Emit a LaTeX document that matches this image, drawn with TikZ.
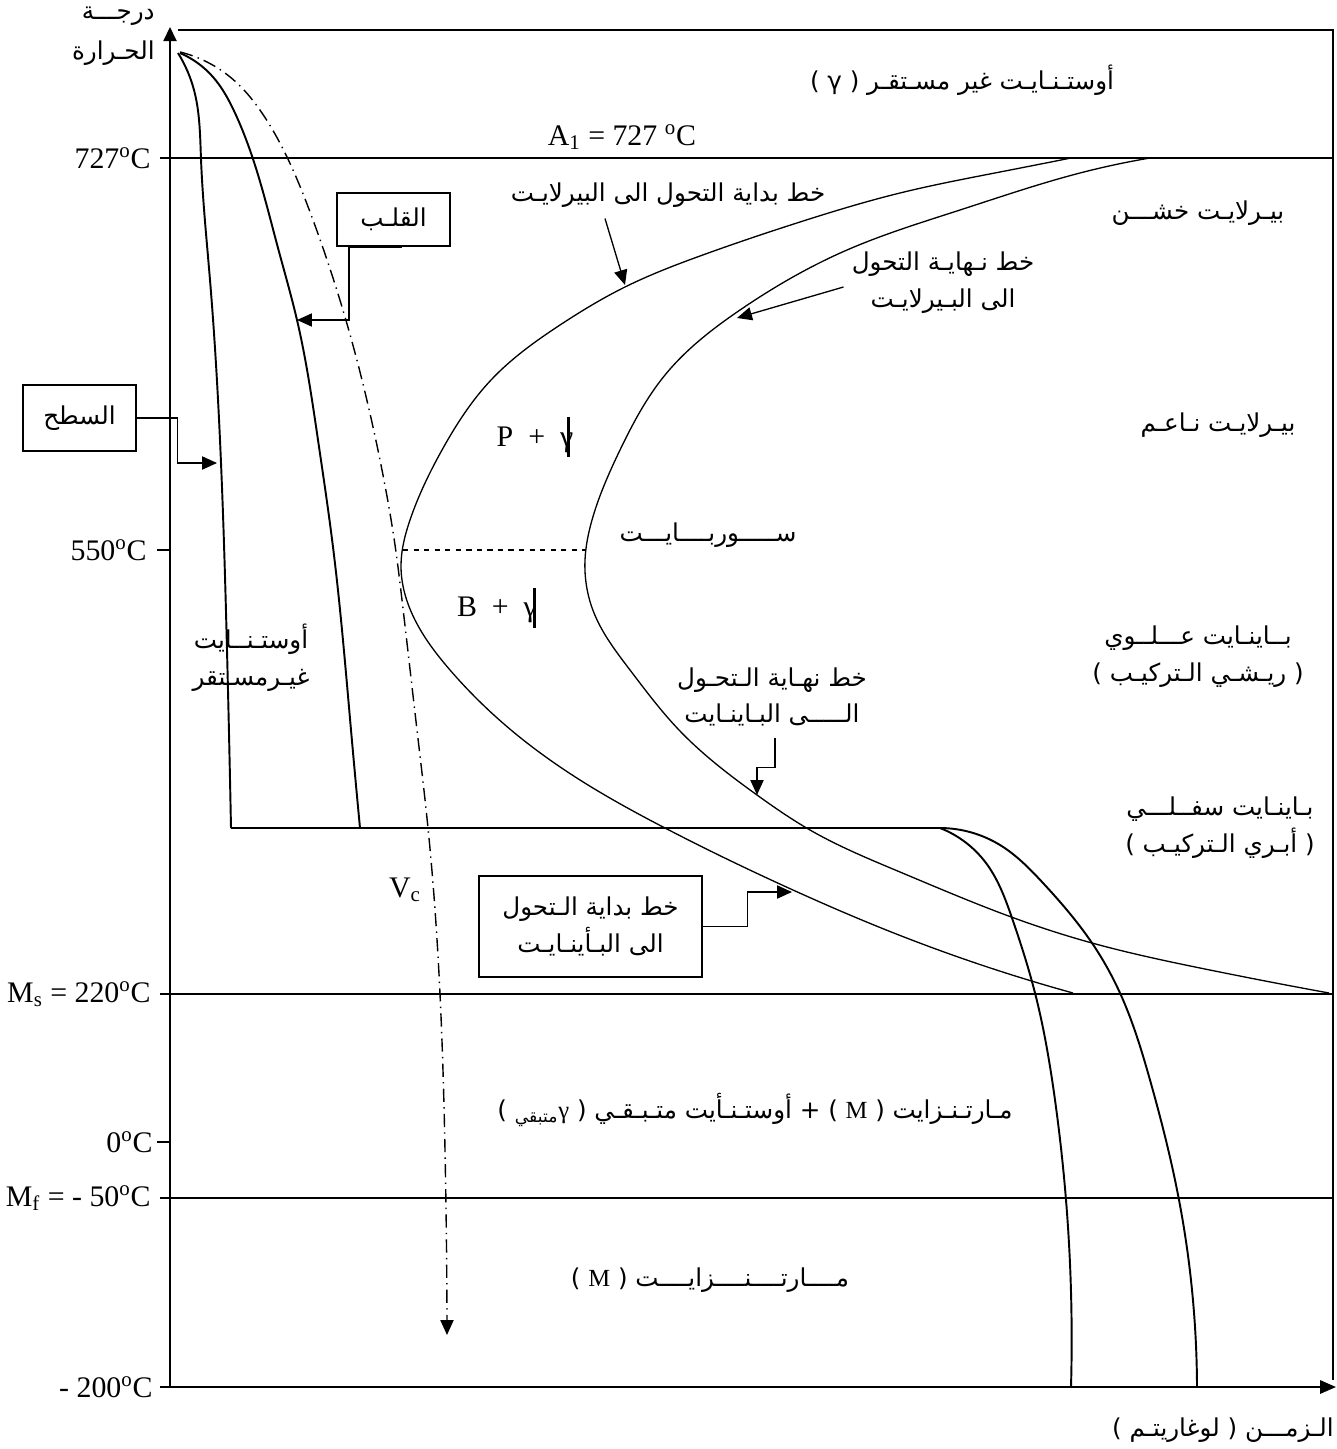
\documentclass[tikz,border=0pt]{standalone}
\usepackage{fontspec}
\setmainfont{Liberation Serif}
\newfontfamily\arabicfont[Script=Arabic]{DejaVu Sans}
\TeXXeTstate=1
\usetikzlibrary{arrows.meta}
\usetikzlibrary{calc}
\usetikzlibrary{hobby}
\newcommand{\artxt}[1]{{\arabicfont\fontsize{14}{21}\selectfont\beginR #1\endR}}
\newcommand{\degc}{\textsuperscript{o}C}

\tikzset{
  isoline/.style={line width=1.2pt},
  ccurve/.style={line width=0.75pt, use Hobby shortcut},
  coolcurve/.style={line width=1.1pt, use Hobby shortcut},
  tagbox/.style={draw, line width=0.85pt, inner sep=0pt},
  ptr/.style={line width=0.75pt, -{Triangle[length=8.5pt,width=7.5pt]}},
  leftlab/.style={anchor=east, inner sep=0pt},
}

\begin{document}
\begin{tikzpicture}[x=0.02cm,y=-0.02cm,font=\fontsize{17}{21}\selectfont]
\useasboundingbox (0,0) rectangle (1336,1449);

% axes and frame
\draw[line width=0.8pt,-{Triangle[length=8pt,width=7.5pt]}] (170,1387) -- (170,27);
\draw[line width=1.2pt,-{Triangle[length=9pt,width=7.5pt]}] (160,1387) -- (1336,1387);
\draw[line width=1.1pt] (178,30) -- (1333,30) -- (1333,1380);

\draw[isoline] (160,158) -- (1333,158);
\draw[isoline] (160,994) -- (1333,994);
\draw[isoline] (160,1198) -- (1333,1198);
\draw[line width=0.8pt] (157,550) -- (170,550);
\draw[line width=1.2pt] (157,1142) -- (170,1142);

\node[leftlab] (ylab1) at (155,16) {\artxt{درجـــة}};
\node[leftlab] (ylab2) at (155,53) {\artxt{الحـرارة}};
\node[leftlab] (t727) at (151,158) {727\degc};
\node[leftlab] (t550) at (147,550) {550\degc};
\node[leftlab] (tms) at (151,994) {M\textsubscript{s} = 220\degc};
\node[leftlab] (t0) at (153,1142) {0\degc};
\node[leftlab] (tmf) at (151,1198) {M\textsubscript{f} = - 50\degc};
\node[leftlab] (t200) at (153,1387) {- 200\degc};
\node[anchor=east, inner sep=0pt] (timelab) at (1334,1430) {\artxt{الـزمـــن ( لوغاريتـم )}};

% cooling curves
\draw[coolcurve] (178,53) .. (194,90) .. (201,159) .. (210,280) .. (220,440) .. (227,650) .. (231,828);
\draw[coolcurve] (180,53) .. (213,77) .. (235,113) .. (253,159) .. (278,248) .. (297,320) .. (318,440) .. (333,547) .. (351,730) .. (360,828);
\draw[line width=1.1pt] (231,828) -- (940,828);
\draw[coolcurve] (940,828) .. (986,863) .. (1012,918) .. (1035,993) .. (1055,1100) .. (1066,1200) .. (1071,1387);
\draw[coolcurve] (940,828) .. (1000,845) .. (1043,883) .. (1092,943) .. (1120,993) .. (1150,1080) .. (1179,1200) .. (1197,1387);
\draw[line width=0.8pt, dash pattern=on 7.5pt off 3pt on 0.8pt off 3pt, use Hobby shortcut, -{Triangle[length=8.5pt,width=7.5pt]}]
  (180,52) .. (207,62) .. (237,83) .. (262,113) .. (282,147) .. (313,220) .. (345,317) .. (362,380) .. (382,470) .. (395,545) .. (402,600) .. (417,730) .. (428,828) .. (440,994) .. (445,1150) .. (447,1335);

% C curves
\draw[ccurve] (1071,158) .. (1000,172) .. (900,193) .. (800,222) .. (700,256) .. (625,287) .. (560,325) .. (491,380) .. (442,450) .. (410,520) .. (401,565) .. (415,620) .. (450,670) .. (511,730) .. (580,780) .. (665,828) .. (782,885) .. (904,937) .. (1073,993);
\draw[ccurve] (1150,158) .. (1080,173) .. (960,210) .. (847,250) .. (740,310) .. (665,375) .. (620,450) .. (592,520) .. (585,560) .. (594,613) .. (630,670) .. (679,730) .. (757,795) .. (810,830) .. (900,872) .. (1014,918) .. (1092,943) .. (1200,968) .. (1329,993);
\draw[line width=0.75pt, dashed] (403,550) -- (586,550);

% region labels
\node (austu) at (962,80) {\artxt{أوستـنـايـت غير مسـتقـر ( γ )}};
\node (a1) at (622,137) {A\textsubscript{1} = 727 \degc};
\node (coarse) at (1198,213) {\artxt{بيـرلايـت خشـــن}};
\node (fine) at (1218,425) {\artxt{بيـرلايـت نـاعـم}};
\node (sorb) at (708,535) {\artxt{ســـــوربــــايـــت}};
\node (pg) at (535,440) {P\ \ +\ \ γ};
\draw[line width=1.7pt] (568,417) -- (568,457);
\node (bg) at (497,610) {B\ \ +\ \ γ};
\draw[line width=1.7pt] (534,588) -- (534,628);
\node[align=center] (austl) at (251,658) {\artxt{أوستـنــايت}\\\artxt{غيـرمسـتقر}};
\node[align=center] (bup) at (1198,657) {\artxt{بــاينـايت عـــلــوي}\\\artxt{( ريـشـي الـتركيـب )}};
\node[align=center] (blow) at (1220,828) {\artxt{بـاينـايت سفــلـــي}\\\artxt{( أبـري الـتركيـب )}};
\node (vc) at (405,890) {V\textsubscript{c}};
\node (mart1) at (755,1110) {\artxt{مـارتـنـزايت ( {\rmfamily M} ) + أوستـنـأيت متـبـقـي ( {\rmfamily γ}\textsubscript{متبقي} )}};
\node (mart2) at (710,1280) {\artxt{مــــارتــــنــــزايــــت ( {\rmfamily M} )}};

% pointer labels
\node (pstart) at (668,195) {\artxt{خط بداية التحول الى البيرلايـت}};
\coordinate (pstip) at (625,285);
\draw[ptr] ($(pstart.south)+(-63,5)$) -- (pstip);

\node[align=center] (pfin) at (943,283) {\artxt{خط نـهايـة التحول}\\\artxt{الى البـيرلايـت}};
\coordinate (pftip) at (737,318);
\draw[ptr] ($(pfin.west)+(-2,4)$) -- (pftip);

\node[align=center] (bfin) at (772,697) {\artxt{خط نهـاية الـتحـول}\\\artxt{الـــــى البـاينـايت}};
\coordinate (bftip) at (757,795);
\draw[ptr] ($(bfin.south)+(3,5)$) -- ++(0,30) -| (bftip);

\node[tagbox, minimum width=2.26cm, minimum height=1.06cm] (core) at (393.5,219.5) {\artxt{القلـب}};
\coordinate (coretip) at (297,320);
\draw[line width=1.2pt] (349,247) -- (402,247);
\draw[ptr] (core.south west -| 349,0) |- (coretip);

\node[tagbox, minimum width=2.26cm, minimum height=1.32cm] (surf) at (79.5,418) {\artxt{السطح}};
\coordinate (surftip) at (217,463);
\draw[ptr] (surf.east) -- ++(41,0) |- (surftip);

\node[tagbox, minimum width=4.46cm, minimum height=2.02cm, align=center] (bstart) at (590.5,926.5) {\artxt{خط بداية الـتحول}\\\artxt{الى البـأينـايـت}};
\coordinate (bstip) at (792,892);
\draw[ptr] (bstart.east) -- ++(45,0) |- (bstip);
\end{tikzpicture}
\end{document}
